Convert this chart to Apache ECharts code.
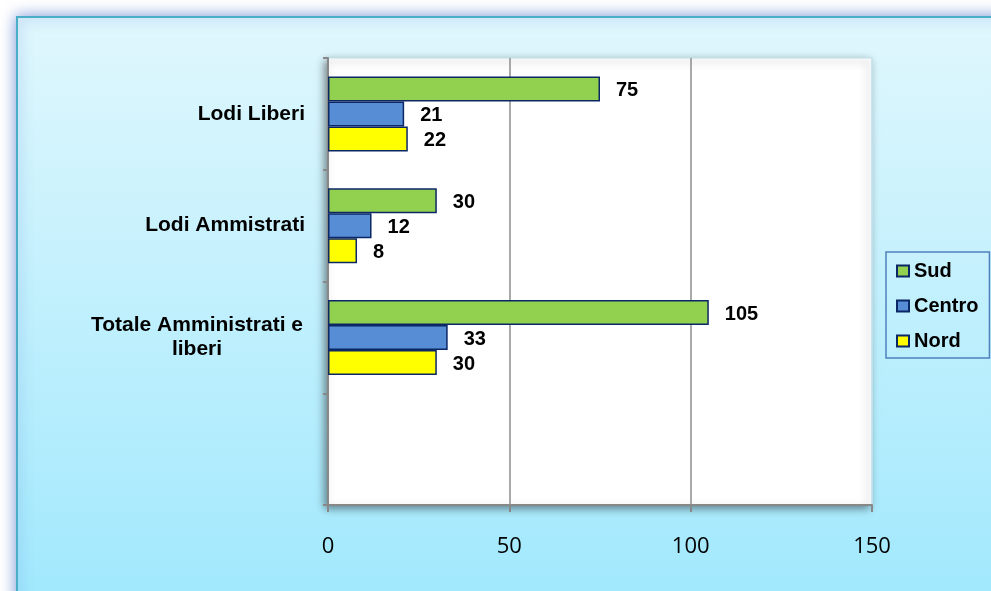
<!DOCTYPE html>
<html>
<head>
<meta charset="utf-8">
<script src="https://cdn.jsdelivr.net/npm/echarts@6/dist/echarts.min.js"></script>
<style>
  html, body { margin: 0; padding: 0; background: #fff; }
  #chart { width: 991px; height: 591px; }
</style>
</head>
<body>
<div id="chart"></div>
<script>
// data
const categories = ["Lodi Liberi", "Lodi Ammistrati", "Totale Amministrati e\nliberi", ""];
const sud = [75, 30, 105];
const centro = [21, 12, 33];
const nord = [22, 8, 30];
const xTicks = { min: 0, max: 150, interval: 50 };

const chart = echarts.init(document.getElementById("chart"));
const boldFont = { fontFamily: "Liberation Sans, Arial", fontWeight: "bold", color: "#000" };

const barSeries = (name, data, color) => ({
  name: name,
  type: "bar",
  data: data,
  barWidth: 25,
  barGap: "0%",
  itemStyle: { color: color, borderColor: "#0b2765", borderWidth: 1.5 },
  label: {
    show: true,
    position: "right",
    distance: 16,
    offset: [0, 2],
    fontSize: 20,
    ...boldFont,
  },
});

chart.setOption({
  animation: false,
  graphic: [
    {
      type: "rect",
      z: -10,
      shape: { x: 17, y: 17, width: 1000, height: 600 },
      style: {
        fill: new echarts.graphic.LinearGradient(0, 0, 0, 1, [
          { offset: 0, color: "#e0f7fd" },
          { offset: 1, color: "#9fe8fd" },
        ]),
        stroke: "#4aaec8",
        lineWidth: 2,
        shadowBlur: 14,
        shadowColor: "rgba(70,110,200,0.7)",
      },
    },
  ],
  grid: {
    left: 328,
    right: 119,
    top: 58,
    bottom: 86,
    show: true,
    backgroundColor: "#fff",
    borderColor: "#c2e2ec",
    borderWidth: 1,
    shadowBlur: 8,
    shadowColor: "rgba(0,0,0,0.45)",
    shadowOffsetX: -3,
    shadowOffsetY: 3,
  },
  legend: {
    orient: "vertical",
    left: 886,
    top: 252,
    padding: [9, 11, 7, 10],
    itemGap: 15,
    itemWidth: 12,
    itemHeight: 11,
    icon: "rect",
    borderColor: "#4f81bd",
    borderWidth: 1.5,
    textStyle: { fontSize: 20, ...boldFont },
    data: ["Sud", "Centro", "Nord"],
  },
  xAxis: {
    type: "value",
    min: xTicks.min,
    max: xTicks.max,
    interval: xTicks.interval,
    axisLine: { show: true, lineStyle: { color: "#888", width: 2 } },
    axisTick: { show: true, length: 7, lineStyle: { color: "#888", width: 2 } },
    axisLabel: { margin: 31, fontSize: 22, fontFamily: "Open Sans", color: "#000" },
    splitLine: {
      show: true,
      lineStyle: { color: ["#8c8c8c", "#8c8c8c", "#8c8c8c", "#c2e2ec"], width: 1.5 },
    },
  },
  yAxis: {
    type: "category",
    inverse: true,
    data: categories.map((c, i) =>
      i === 2 ? { value: c, textStyle: { align: "center", padding: [0, 216, 0, 0], lineHeight: 24 } } : c
    ),
    axisLine: { show: true, lineStyle: { color: "#888", width: 2 } },
    axisTick: { show: true, length: 5, lineStyle: { color: "#888", width: 2 } },
    axisLabel: { margin: 23, fontSize: 21, ...boldFont },
  },
  series: [
    barSeries("Sud", sud, "#92d050"),
    barSeries("Centro", centro, "#568dd4"),
    barSeries("Nord", nord, "#ffff00"),
  ],
});
</script>
</body>
</html>
